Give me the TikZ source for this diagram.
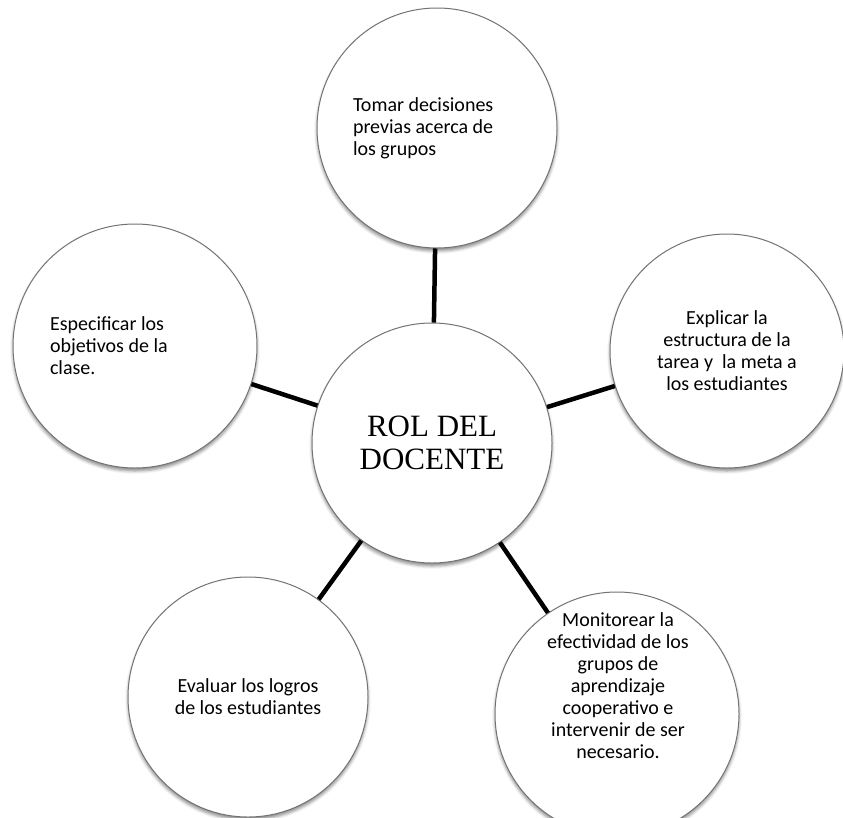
\documentclass[tikz,border=0pt]{standalone}
\usepackage{fontspec}
\setmainfont{Carlito}
\newfontfamily\romanfont{Liberation Serif}
\usetikzlibrary{shadows.blur}

\begin{document}
\begin{tikzpicture}[x=1pt, y=-1pt,
	every node/.style={font=\fontsize{20}{22}\selectfont},
	bubble/.style={circle, draw=black!55, line width=1pt, fill=white, inner sep=0pt, align=center,
		blur shadow={shadow xshift=0pt, shadow yshift=-3pt, shadow blur radius=3pt, shadow opacity=45}}]

	\useasboundingbox (0,0) rectangle (843,817);

	% centre
	\node[bubble, minimum size=240pt, font=\romanfont\fontsize{31}{33}\selectfont] (rol) at (432,443)
		{ROL DEL\\DOCENTE};

	% the five tasks round it
	\node[bubble, minimum size=240pt, text width=168pt, align=flush left] (tomar) at (437,128)
		{Tomar decisiones\\previas acerca de\\los grupos};
	\node[bubble, minimum size=234pt] (explicar) at (727,351)
		{Explicar la\\estructura de la\\tarea y~ la meta a\\los estudiantes};
	\node[bubble, minimum size=244pt] (monitorear) at (617,714) {};
	\node (monitoreartxt) at (618,688)
		{\begin{tabular}{@{}c@{}}Monitorear la\\efectividad de los\\grupos de\\aprendizaje\\cooperativo e\\intervenir de ser\\necesario.\end{tabular}};
	\node[bubble, minimum size=240pt] (evaluar) at (248,697)
		{Evaluar los logros\\de los estudiantes};
	\node[bubble, minimum size=244pt, text width=170pt, align=flush left] (especificar) at (135,346)
		{Especificar los\\objetivos de la\\clase.};

	\begin{scope}[line width=4.5pt]
	\draw (rol) -- (tomar);
	\draw (rol) -- (explicar);
	\draw (rol) -- (monitorear);
	\draw (rol) -- (evaluar);
	\draw (rol) -- (especificar);
	\end{scope}
\end{tikzpicture}
\end{document}
